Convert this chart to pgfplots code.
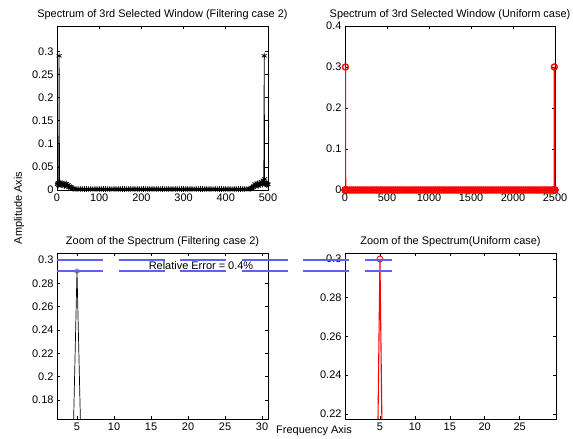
\documentclass[border=0pt]{standalone}
\usepackage{pgfplots}
\pgfplotsset{compat=1.18}
\usepackage{pgfplotstable}
\usepackage{fontspec}
\setmainfont{Liberation Sans}

\definecolor{errblue}{RGB}{95,95,240}

% spectrum, filtering case 2
\pgfplotstableread[row sep=\\]{
x y\\
1 0.012\\ 2 0.014\\ 3 0.016\\ 4 0.010\\ 5 0.2905\\ 6 0.013\\ 7 0.016\\ 8 0.012\\
9 0.014\\ 10 0.011\\ 12 0.015\\ 14 0.010\\ 16 0.013\\ 18 0.009\\ 20 0.012\\
22 0.014\\ 24 0.008\\ 26 0.011\\ 28 0.006\\ 30 0.008\\ 32 0.005\\ 34 0.006\\
36 0.004\\ 38 0.003\\ 40 0.003\\ 45 0.002\\ 50 0.002\\ 55 0.002\\ 60 0.002\\
65 0.002\\ 70 0.002\\ 75 0.002\\ 80 0.002\\ 85 0.002\\ 90 0.002\\ 95 0.002\\
100 0.002\\ 105 0.002\\ 110 0.002\\ 115 0.002\\ 120 0.002\\ 125 0.002\\
130 0.002\\ 135 0.002\\ 140 0.002\\ 145 0.002\\ 150 0.002\\ 155 0.002\\
160 0.002\\ 165 0.002\\ 170 0.002\\ 175 0.002\\ 180 0.002\\ 185 0.002\\
190 0.002\\ 195 0.002\\ 200 0.002\\ 205 0.002\\ 210 0.002\\ 215 0.002\\
220 0.002\\ 225 0.002\\ 230 0.002\\ 235 0.002\\ 240 0.002\\ 245 0.002\\
250 0.002\\ 255 0.002\\ 260 0.002\\ 265 0.002\\ 270 0.002\\ 275 0.002\\
280 0.002\\ 285 0.002\\ 290 0.002\\ 295 0.002\\ 300 0.002\\ 305 0.002\\
310 0.002\\ 315 0.002\\ 320 0.002\\ 325 0.002\\ 330 0.002\\ 335 0.002\\
340 0.002\\ 345 0.002\\ 350 0.002\\ 355 0.002\\ 360 0.002\\ 365 0.002\\
370 0.002\\ 375 0.002\\ 380 0.002\\ 385 0.002\\ 390 0.002\\ 395 0.002\\
400 0.002\\ 405 0.002\\ 410 0.002\\ 415 0.002\\ 420 0.002\\ 425 0.002\\
430 0.002\\ 435 0.002\\ 440 0.002\\ 445 0.002\\ 450 0.002\\ 455 0.003\\
458 0.003\\ 461 0.004\\ 463 0.005\\ 465 0.006\\ 467 0.009\\ 469 0.013\\
471 0.008\\ 473 0.011\\ 475 0.014\\ 477 0.009\\ 479 0.016\\ 481 0.011\\
483 0.013\\ 485 0.018\\ 487 0.012\\ 489 0.021\\ 490 0.016\\ 491 0.2905\\
492 0.024\\ 493 0.016\\ 494 0.013\\ 495 0.015\\ 496 0.011\\ 497 0.014\\
498 0.012\\ 499 0.013\\ 500 0.012\\
}\filtdata

% spectrum, uniform case
\pgfplotstableread[row sep=\\]{
x y\\
1 0\\ 2 0\\ 3 0\\ 4 0\\ 5 0.3\\ 6 0\\ 7 0\\ 8 0\\ 10 0\\ 25 0\\
50 0\\ 75 0\\ 100 0\\ 125 0\\ 150 0\\ 175 0\\ 200 0\\ 225 0\\ 250 0\\ 275 0\\
300 0\\ 325 0\\ 350 0\\ 375 0\\ 400 0\\ 425 0\\ 450 0\\ 475 0\\ 500 0\\ 525 0\\
550 0\\ 575 0\\ 600 0\\ 625 0\\ 650 0\\ 675 0\\ 700 0\\ 725 0\\ 750 0\\ 775 0\\
800 0\\ 825 0\\ 850 0\\ 875 0\\ 900 0\\ 925 0\\ 950 0\\ 975 0\\ 1000 0\\ 1025 0\\
1050 0\\ 1075 0\\ 1100 0\\ 1125 0\\ 1150 0\\ 1175 0\\ 1200 0\\ 1225 0\\ 1250 0\\
1275 0\\ 1300 0\\ 1325 0\\ 1350 0\\ 1375 0\\ 1400 0\\ 1425 0\\ 1450 0\\ 1475 0\\
1500 0\\ 1525 0\\ 1550 0\\ 1575 0\\ 1600 0\\ 1625 0\\ 1650 0\\ 1675 0\\ 1700 0\\
1725 0\\ 1750 0\\ 1775 0\\ 1800 0\\ 1825 0\\ 1850 0\\ 1875 0\\ 1900 0\\ 1925 0\\
1950 0\\ 1975 0\\ 2000 0\\ 2025 0\\ 2050 0\\ 2075 0\\ 2100 0\\ 2125 0\\ 2150 0\\
2175 0\\ 2200 0\\ 2225 0\\ 2250 0\\ 2275 0\\ 2300 0\\ 2325 0\\ 2350 0\\ 2375 0\\
2400 0\\ 2425 0\\ 2450 0\\ 2475 0\\ 2485 0\\ 2489 0\\ 2490 0\\ 2491 0\\ 2492 0.3\\
2493 0\\ 2494 0\\ 2495 0\\ 2497 0\\ 2500 0\\
}\unifdata

\pgfplotsset{
  matfig/.style={
    scale only axis,
    anchor=south west,
    tick align=inside,
    axis line style={line width=0.8bp},
    every tick/.style={black, line width=0.6bp},
    major tick length=3bp,
    tick label style={font=\fontsize{11}{13}\selectfont},
    title style={font=\fontsize{11}{13}\selectfont, yshift=-3bp},
    scaled ticks=false,
  }
}

\begin{document}
\begin{tikzpicture}
\useasboundingbox (0,0) rectangle (573bp,439bp);

% top left
\begin{axis}[matfig, at={(57bp,249bp)}, width=211bp, height=164bp,
  xmin=0, xmax=500, ymin=0, ymax=0.355,
  xtick={0,100,200,300,400,500},
  xticklabels={0,100,200,300,400,500},
  ytick={0,0.05,0.1,0.15,0.2,0.25,0.3},
  yticklabels={0,0.05,0.1,0.15,0.2,0.25,0.3},
  title={Spectrum of 3rd Selected Window (Filtering case 2)}]
\addplot[black, line width=0.7bp, mark=asterisk, mark size=2.9bp,
  mark options={line width=0.7bp}] table {\filtdata};
\end{axis}

% top right
\begin{axis}[matfig, at={(345bp,249bp)}, width=210bp, height=164bp,
  xmin=0, xmax=2500, ymin=0, ymax=0.4,
  xtick={0,500,1000,1500,2000,2500},
  xticklabels={0,500,1000,1500,2000,2500},
  ytick={0,0.1,0.2,0.3,0.4},
  yticklabels={0,0.1,0.2,0.3,0.4},
  title={Spectrum of 3rd Selected Window (Uniform case)}]
\addplot[red, line width=1.5bp, mark=o, mark size=3bp,
  mark options={line width=1.4bp}] table {\unifdata};
\end{axis}

% bottom left
\begin{axis}[matfig, at={(57bp,20bp)}, width=211bp, height=166bp,
  xmin=2.3, xmax=30.8, ymin=0.1637, ymax=0.306,
  xtick={5,10,15,20,25,30},
  xticklabels={5,10,15,20,25,30},
  ytick={0.18,0.2,0.22,0.24,0.26,0.28,0.3},
  yticklabels={0.18,0.2,0.22,0.24,0.26,0.28,0.3},
  restrict x to domain=0:40,
  title={Zoom of the Spectrum (Filtering case 2)}]
\addplot[black, line width=0.7bp, mark=asterisk, mark size=2.6bp,
  mark options={line width=0.7bp}] table {\filtdata};
\end{axis}

% bottom right
\begin{axis}[matfig, at={(345bp,20bp)}, width=211bp, height=166bp,
  xmin=0, xmax=30.2, ymin=0.2174, ymax=0.3031,
  xtick={5,10,15,20,25},
  xticklabels={5,10,15,20,25},
  ytick={0.22,0.24,0.26,0.28,0.3},
  yticklabels={0.22,0.24,0.26,0.28,0.3},
  restrict x to domain=0:40,
  title={Zoom of the Spectrum(Uniform case)}]
\addplot[red, line width=1.1bp, mark=o, mark size=3bp,
  mark options={line width=0.9bp}] table {\unifdata};
\end{axis}

% relative-error guide lines (figure annotation)
\draw[errblue, line width=2bp, dash pattern=on 46bp off 15.5bp]
  (57bp,179bp) -- (392bp,179bp);
\draw[errblue, line width=2bp, dash pattern=on 46bp off 15.5bp]
  (57bp,168.3bp) -- (392bp,168.3bp);
\node[font=\fontsize{11}{13}\selectfont] at (201bp,173.5bp) {Relative Error = 0.4\%};

\node[rotate=90, font=\fontsize{11}{13}\selectfont] at (19bp,231bp) {Amplitude Axis};
\node[font=\fontsize{11}{13}\selectfont] at (314bp,8bp) {Frequency Axis};
\end{tikzpicture}
\end{document}
